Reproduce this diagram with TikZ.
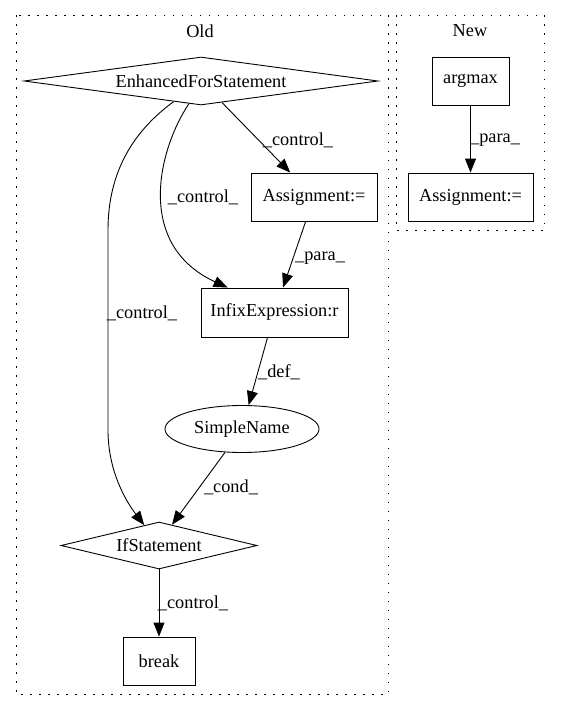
\documentclass[tikz,border=0pt]{standalone}
\usepackage{fontspec}
\setmainfont{Liberation Serif}
\usetikzlibrary{shapes.geometric,arrows.meta,calc}
\begin{document}
\begin{tikzpicture}[x=1pt,y=-1pt,
  every node/.style={font=\fontsize{18.3pt}{20pt}\selectfont, inner sep=0pt},
  box/.style={draw, line width=0.9pt, rectangle},
  dia/.style={draw, line width=0.9pt, diamond},
  ell/.style={draw, line width=0.9pt, ellipse},
  lab/.style={inner sep=0pt},
  cluster/.style={draw, line width=1pt, dash pattern=on 1.5pt off 7.5pt},
  edge/.style={draw, line width=0.9pt, -{Triangle[length=14pt,width=11pt]}}
]
\fill[white] (0,0) rectangle (560,712);
\useasboundingbox (0,0) rectangle (560,712);
% clusters
\draw[cluster] (16,15) rectangle (388,694);
\draw[cluster] (396,15) rectangle (544,230);
\node (oldlbl) at (200,31) {Old};
\node (newlbl) at (470,31) {New};
% nodes
\node[dia, minimum width=354pt, minimum height=48pt, shape aspect=7.4] (efs) at (201,81) {EnhancedForStatement};
\node[box, minimum width=126pt, minimum height=48pt] (asg) at (314,197) {Assignment:=};
\node[box, minimum width=147pt, minimum height=49pt] (infix) at (274.5,312.5) {InfixExpression:r};
\node[ell, minimum width=154pt, minimum height=47pt] (sn) at (242,429) {SimpleName};
\node[dia, minimum width=196pt, minimum height=47pt, shape aspect=4.2] (ifs) at (159,545.5) {IfStatement};
\node[box, minimum width=72pt, minimum height=48pt] (brk) at (159,661) {break};
\node[box, minimum width=77pt, minimum height=48pt] (argmax) at (470.5,81) {argmax};
\node[box, minimum width=125pt, minimum height=48pt] (asg2) at (470.5,197) {Assignment:=};
% edges
\draw[edge] (efs) -- (asg);
\draw[edge] (efs.-118) .. controls (158,150) and (135,245) .. ($(infix.north west)+(27,0)$);
\draw[edge] (efs.-143) .. controls (135,130) and (108,170) .. (108,230) -- (108,430) .. controls (108,470) and (125,500) .. (ifs.126);
\draw[edge] (asg) -- (infix);
\draw[edge] (infix) -- (sn);
\draw[edge] (sn.-126) -- (ifs.58);
\draw[edge] (ifs) -- (brk);
\draw[edge] (argmax) -- (asg2);
% labels
\node[lab] (l1) at (298,140) {\_control\_};
\node[lab] (l2) at (203,197) {\_control\_};
\node[lab] (l3) at (142,313) {\_control\_};
\node[lab] (l4) at (320,258) {\_para\_};
\node[lab] (l5) at (279,372) {\_def\_};
\node[lab] (l6) at (231,487) {\_cond\_};
\node[lab] (l7) at (193,603) {\_control\_};
\node[lab] (l8) at (495,140) {\_para\_};
\end{tikzpicture}
\end{document}
